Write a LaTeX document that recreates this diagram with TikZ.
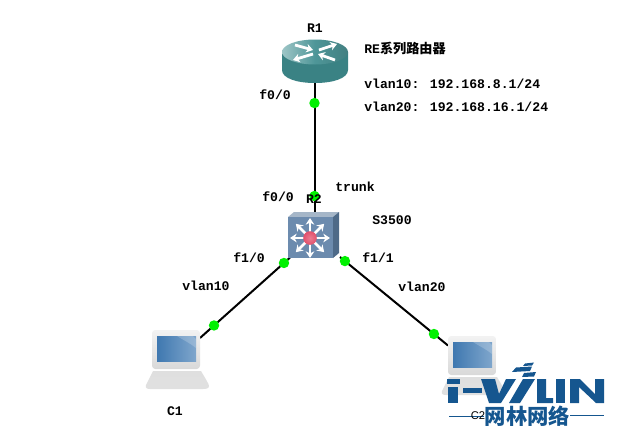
\documentclass[tikz,border=0pt]{standalone}
\usepackage{fontspec}
\usetikzlibrary{arrows.meta}
\setmainfont{Liberation Mono}
\newfontfamily\cjk{Noto Sans CJK SC}
\newfontfamily\plainsans{Liberation Sans}
\definecolor{logoblue}{HTML}{15568F}
\definecolor{routerA}{HTML}{4E9698}
\definecolor{routerB}{HTML}{3A8284}
\definecolor{swfront}{HTML}{6C8BAE}
\definecolor{swtop}{HTML}{A5B6C8}
\definecolor{swside}{HTML}{4E6A88}
\definecolor{scrA}{HTML}{3F78B0}
\definecolor{scrB}{HTML}{7FA6CC}
\definecolor{dotgreen}{HTML}{00F000}
\definecolor{ballred}{HTML}{E2506C}
\tikzset{
  lbl/.style={font=\fontsize{9.85pt}{12pt}\selectfont\bfseries,inner sep=0pt,anchor=west,text=black},
  clbl/.style={lbl,anchor=center},
  link/.style={line width=1.5pt,black},
  dot/.style={circle,fill=dotgreen,draw=none,inner sep=0pt,minimum size=7.8pt},
  port/.style={inner sep=0pt,minimum size=0pt,draw=none},
  logo/.style={fill=logoblue,draw=none},
  whitearrow/.style={white,line width=2.1pt,-{Stealth[length=5pt,width=6.5pt]}}
}
\newcommand{\pcicon}[2]{%
  \begin{scope}[shift={(#1,#2)}]
    \path[top color=gray!25,bottom color=white!88!black] (8,41) -- (56,41) .. controls (60,48) and (64,54) .. (64,56) .. controls (64,59) and (60,59) .. (58,59) -- (5,59) .. controls (2,59) and (0,58) .. (1,55) -- cycle;
    \path[top color=gray!10,bottom color=gray!30,rounded corners=2.5pt] (7,0) rectangle (55,39);
    \path[left color=scrA,right color=scrB] (12,6) rectangle (51,31);
    \fill[white,opacity=.2] (32,6) -- (48,6) -- (51,9) -- (51,18) .. controls (45,13) and (38,10) .. (32,6) -- cycle;
  \end{scope}}
\begin{document}
\begin{tikzpicture}[x=0.75pt,y=-0.75pt]
\useasboundingbox (0,0) rectangle (637,447);
\fill[white] (0,0) rectangle (637,447);

% connection ends
\node[port] (R1s) at (314.5,82) {};
\node[port] (R2n) at (314.5,212) {};
\node[port] (R2w) at (290,257.6) {};
\node[port] (R2e) at (340,257) {};
\node[port] (C1p) at (200,338) {};
\node[port] (C2p) at (448,345.5) {};

% connectors
\draw[link] (R1s.center) -- (R2n.center);
\draw[link] (R2w.center) -- (C1p.center);
\draw[link] (R2e.center) -- (C2p.center);

% router R1
\fill[routerB] (282,52) -- (282,70) .. controls (282,78) and (296,83) .. (315,83) .. controls (334,83) and (348,78) .. (348,70) -- (348,52) -- cycle;
\path[left color=routerA!55!white,right color=routerA!85!black,middle color=routerA] (315,52) ellipse (33 and 12.5);
\draw[whitearrow] (295,45) -- (313,50);
\draw[whitearrow] (319,50) -- (337,44);
\draw[whitearrow] (313,54) -- (293,60);
\draw[whitearrow] (335,60) -- (318,54);

% switch R2
\fill[swtop] (288,217) -- (294,212) -- (339,212) -- (333,217) -- cycle;
\fill[swside] (333,217) -- (339,212) -- (339,253) -- (333,258) -- cycle;
\fill[swfront] (288,217) rectangle (333,258);
\foreach \ang in {0,45,...,315}{
  \draw[white,line width=1.9pt,-{Stealth[length=5pt,width=6.5pt]}] (310,238) -- ++(\ang:20);
}
\shade[inner color=ballred!75!white,outer color=ballred] (310,238) circle (6.8);

% PCs
\pcicon{145}{330}
\pcicon{441}{336}

% link dots
\path (R1s.center) -- node[dot,pos=.162] (d1) {} node[dot,pos=.877] (d2) {} (R2n.center);
\path (R2w.center) -- node[dot,pos=.067] (d3) {} node[dot,pos=.844] (d5) {} (C1p.center);
\path (R2e.center) -- node[dot,pos=.046] (d4) {} node[dot,pos=.87] (d6) {} (C2p.center);

% labels
\node[clbl] (tR1) at (315,28) {R1};
\node[lbl] (tre) at (364,49) {RE{\cjk\bfseries 系列路由器}};
\node[lbl] (t1) at (364,84) {vlan10: 192.168.8.1/24};
\node[lbl] (t2) at (364,107) {vlan20: 192.168.16.1/24};
\node[lbl] (t3) at (259,95) {f0/0};
\node[lbl] (t4) at (335,187) {trunk};
\node[lbl] (t5) at (262,197) {f0/0};
\node[clbl] (tR2) at (314,199) {R2};
\node[lbl] (t6) at (372,220) {S3500};
\node[lbl] (t7) at (233,258) {f1/0};
\node[lbl] (t8) at (362,258) {f1/1};
\node[lbl] (t9) at (182,286) {vlan10};
\node[lbl] (t10) at (398,287) {vlan20};
\node[clbl] (tC1) at (175,411) {C1};

% logo
\fill[logo] (447,379) rectangle (460,383.5);
\fill[logo] (448,387) rectangle (458,403);
\fill[logo] (463,388) rectangle (482,392.5);
\fill[logo] (481,379) -- (495,379) -- (499,394) -- (506,379) -- (516,379) -- (501,403) -- (489,403) -- cycle;
\fill[logo] (523,379) -- (535,379) -- (520,403) -- (509,403) -- cycle;
\fill[logo] (525,363.5) -- (534,362.5) -- (532,365.5) -- (523,366) -- cycle;
\fill[logo] (516,367.5) -- (532,366.5) -- (530,371) -- (512,372) -- cycle;
\fill[logo] (524,373) -- (536,372) -- (534,376.5) -- (522,377) -- cycle;
\fill[logo] (537,379) -- (546,379) -- (546,398) -- (553,398) -- (553,403) -- (537,403) -- cycle;
\fill[logo] (556,379) rectangle (565,403);
\fill[logo] (570,379) -- (580,379) -- (595,394) -- (595,379) -- (604,379) -- (604,403) -- (596,403) -- (579,387) -- (579,403) -- (570,403) -- cycle;
\draw[logoblue,line width=.8pt] (449,416.5) -- (484,416.5);
\draw[logoblue,line width=.8pt] (570,415.5) -- (604,415.5);
\node[anchor=center,inner sep=0pt,font=\plainsans\fontsize{8.4pt}{10pt}\selectfont] (tC2) at (478,416) {C2};
\node[inner sep=0pt,anchor=center,text=logoblue,font=\cjk\bfseries\fontsize{16pt}{16pt}\selectfont] (tlogo) at (527.5,416.5) {网林网络};
\end{tikzpicture}
\end{document}
